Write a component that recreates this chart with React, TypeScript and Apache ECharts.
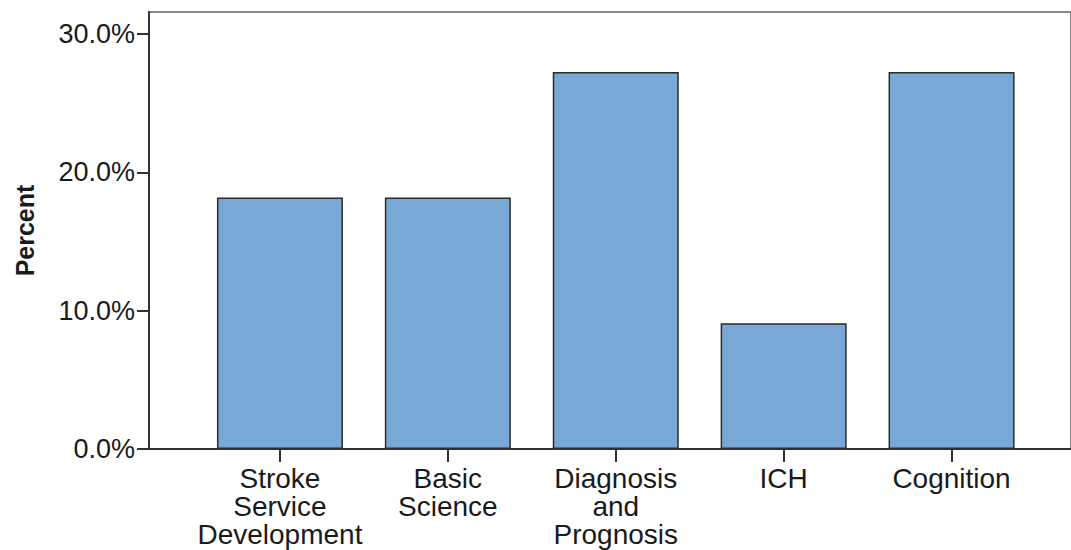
import React, { useEffect, useRef } from "react";
import * as echarts from "echarts";

const categories = ["Stroke\nService\nDevelopment", "Basic\nScience", "Diagnosis\nand\nPrognosis", "ICH", "Cognition"];
const percentValues = [18.18, 18.18, 27.27, 9.09, 27.27];
const yTicks = [0, 10, 20, 30];

const FONT = '"Liberation Sans", Arial, Helvetica, sans-serif';
const Y_MAX = 31.6;

export default function App() {
  const ref = useRef<HTMLDivElement>(null);
  useEffect(() => {
    document.body.style.margin = "0";
    const chart = echarts.init(ref.current!, null, { renderer: "svg" });
    chart.setOption({
      animation: false,
      backgroundColor: "#ffffff",
      textStyle: { fontFamily: FONT },
      grid: [
        { left: 149, right: -6, top: 12, bottom: 101, show: true, borderColor: "#8a8a8a", borderWidth: 2, backgroundColor: "transparent" },
        { left: 196, right: 35.5, top: 12, bottom: 101 },
      ],
      xAxis: [
        {
          type: "value", gridIndex: 0, min: 0, max: 1,
          axisLine: { show: true, lineStyle: { color: "#333333", width: 2 } },
          axisTick: { show: false }, axisLabel: { show: false }, splitLine: { show: false },
        },
        {
          type: "category", gridIndex: 1, data: categories,
          axisLine: { show: false },
          axisTick: { show: true, alignWithLabel: true, length: 13, lineStyle: { color: "#333333", width: 2 } },
          axisLabel: { margin: 15, fontSize: 28, lineHeight: 28, color: "#1a1a1a", fontFamily: FONT, interval: 0, align: "center" },
          splitLine: { show: false },
        },
      ],
      yAxis: [
        {
          type: "value", gridIndex: 0, min: 0, max: Y_MAX,
          name: "Percent", nameLocation: "middle", nameGap: 112,
          nameTextStyle: { fontSize: 25, fontWeight: "bold", color: "#1a1a1a", fontFamily: FONT },
          axisLine: { show: true, lineStyle: { color: "#333333", width: 2 } },
          axisTick: { show: true, length: 12, customValues: yTicks, lineStyle: { color: "#333333", width: 2 } },
          axisLabel: { margin: 14, fontSize: 27, color: "#1a1a1a", fontFamily: FONT, customValues: yTicks, formatter: (v: number) => v.toFixed(1) + "%" },
          splitLine: { show: false },
        },
        { type: "value", gridIndex: 1, min: 0, max: Y_MAX, show: false },
      ],
      series: [
        {
          type: "bar", xAxisIndex: 1, yAxisIndex: 1, data: percentValues, barWidth: 126,
          itemStyle: { color: "#79a8d6", borderColor: "#2b2b2b", borderWidth: 1.5 },
        },
      ],
    });
    return () => chart.dispose();
  }, []);
  return <div ref={ref} style={{ width: 1071, height: 550 }} />;
}
